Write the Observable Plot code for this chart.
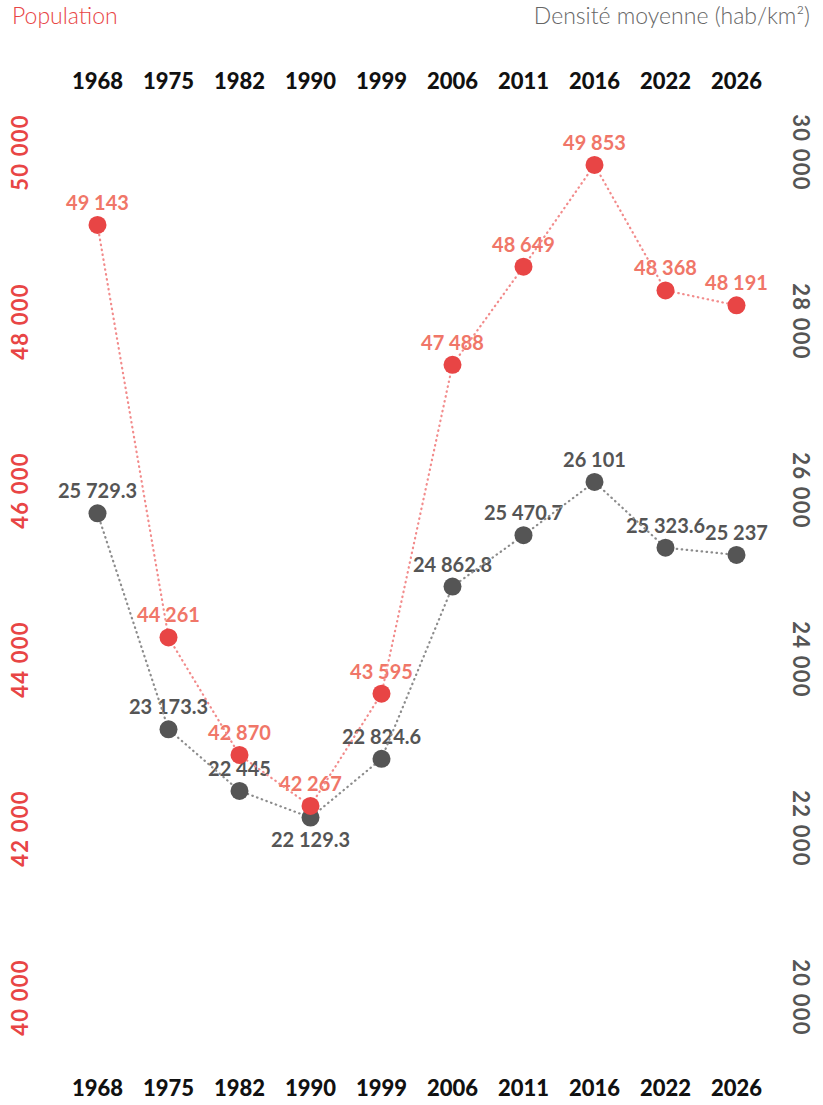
<!DOCTYPE html>
<html><head><meta charset="utf-8">
<script src="https://cdn.jsdelivr.net/npm/d3@7"></script>
<script src="https://cdn.jsdelivr.net/npm/@observablehq/plot@0.6"></script>
<style>
body{margin:0;background:#fff;font-family:Lato,sans-serif}
#hdr{position:relative;height:40px;width:823px}
#hdr .l{position:absolute;left:12px;top:1px;color:#e84545;font-size:23px;font-weight:300}
#hdr .r{position:absolute;right:13px;top:1px;color:#666;font-size:23px;font-weight:300}
.yl text{letter-spacing:1.2px}
</style></head><body>
<div id="hdr"><span class="l">Population</span><span class="r">Densité moyenne (hab/km²)</span></div>
<div id="chart"></div>
<script>
const years = ["1968","1975","1982","1990","1999","2006","2011","2016","2022","2026"];
const population = [49143,44261,42870,42267,43595,47488,48649,49853,48368,48191];
const densite = [25729.3,23173.3,22445,22129.3,22824.6,24862.8,25470.7,26101,25323.6,25237];
const popTicks = [40000,42000,44000,46000,48000,50000];
const densTicks = [20000,22000,24000,26000,28000,30000];
const densOffset = 20000; // right axis 20 000–30 000 shares the frame with 40 000–50 000

const loc = d3.formatLocale({decimal: ".", thousands: " ", grouping: [3], currency: ["", ""]});
const fInt = loc.format(",d");
const fDec = loc.format(",.1~f");

const popData = years.map((y, i) => ({year: y, v: population[i], label: fInt(population[i])}));
const densData = years.map((y, i) => ({year: y, v: densite[i] + densOffset, label: fDec(densite[i])}));
// the 1990 density label would collide with the population label, so it goes under its dot
const densAbove = densData.filter(d => d.year !== "1990");
const densBelow = densData.filter(d => d.year === "1990");

const RED = "#e84545", RED_TXT = "#f07668", RED_LINE = "#f28b8b";
const GREY = "#555555", GREY_LINE = "#8c8c8c";
const labelFont = {fontSize: 20, fontWeight: "bold"};

const chart = Plot.plot({
  width: 823, height: 1065,
  marginTop: 112, marginBottom: 108, marginLeft: 95, marginRight: 86,
  style: {fontFamily: "Lato, sans-serif", background: "white", overflow: "visible"},
  x: {type: "point", domain: years, padding: 0, axis: null, label: null},
  y: {domain: [40000, 50000], axis: null, label: null},
  marks: [
    Plot.axisX({anchor: "top", tickSize: 0, tickPadding: 64, label: null, fontSize: 22, fontWeight: 900, fill: "#111", lineAnchor: "bottom"}),
    Plot.axisX({anchor: "bottom", tickSize: 0, tickPadding: 83, label: null, fontSize: 22, fontWeight: 900, fill: "#111", lineAnchor: "top"}),
    Plot.axisY(popTicks, {anchor: "left", tickSize: 0, tickRotate: -90, tickPadding: 75, label: null,
      textAnchor: "middle", lineAnchor: "middle", fontSize: 22, fontWeight: "bold", fill: RED, tickFormat: fInt, className: "yl"}),
    Plot.axisY(densTicks.map(d => d + densOffset), {anchor: "right", tickSize: 0, tickRotate: 90, tickPadding: 63, label: null,
      textAnchor: "middle", lineAnchor: "middle", fontSize: 22, fontWeight: "bold", fill: GREY, tickFormat: d => fInt(d - densOffset), className: "yl"}),
    Plot.text(densAbove, {x: "year", y: "v", text: "label", dy: -15, lineAnchor: "bottom", ...labelFont, fill: GREY}),
    Plot.text(densBelow, {x: "year", y: "v", text: "label", dy: 15, lineAnchor: "top", ...labelFont, fill: GREY}),
    Plot.text(popData, {x: "year", y: "v", text: "label", dy: -15, lineAnchor: "bottom", ...labelFont, fill: RED_TXT}),
    Plot.line(densData, {x: "year", y: "v", stroke: GREY_LINE, strokeWidth: 2.2, strokeDasharray: "0.5,4.5", strokeLinecap: "round"}),
    Plot.line(popData, {x: "year", y: "v", stroke: RED_LINE, strokeWidth: 2.2, strokeDasharray: "0.5,4.5", strokeLinecap: "round"}),
    Plot.dot(densData, {x: "year", y: "v", r: 9, fill: GREY}),
    Plot.dot(popData, {x: "year", y: "v", r: 9, fill: RED})
  ]
});
document.getElementById("chart").append(chart);
</script>
</body></html>
